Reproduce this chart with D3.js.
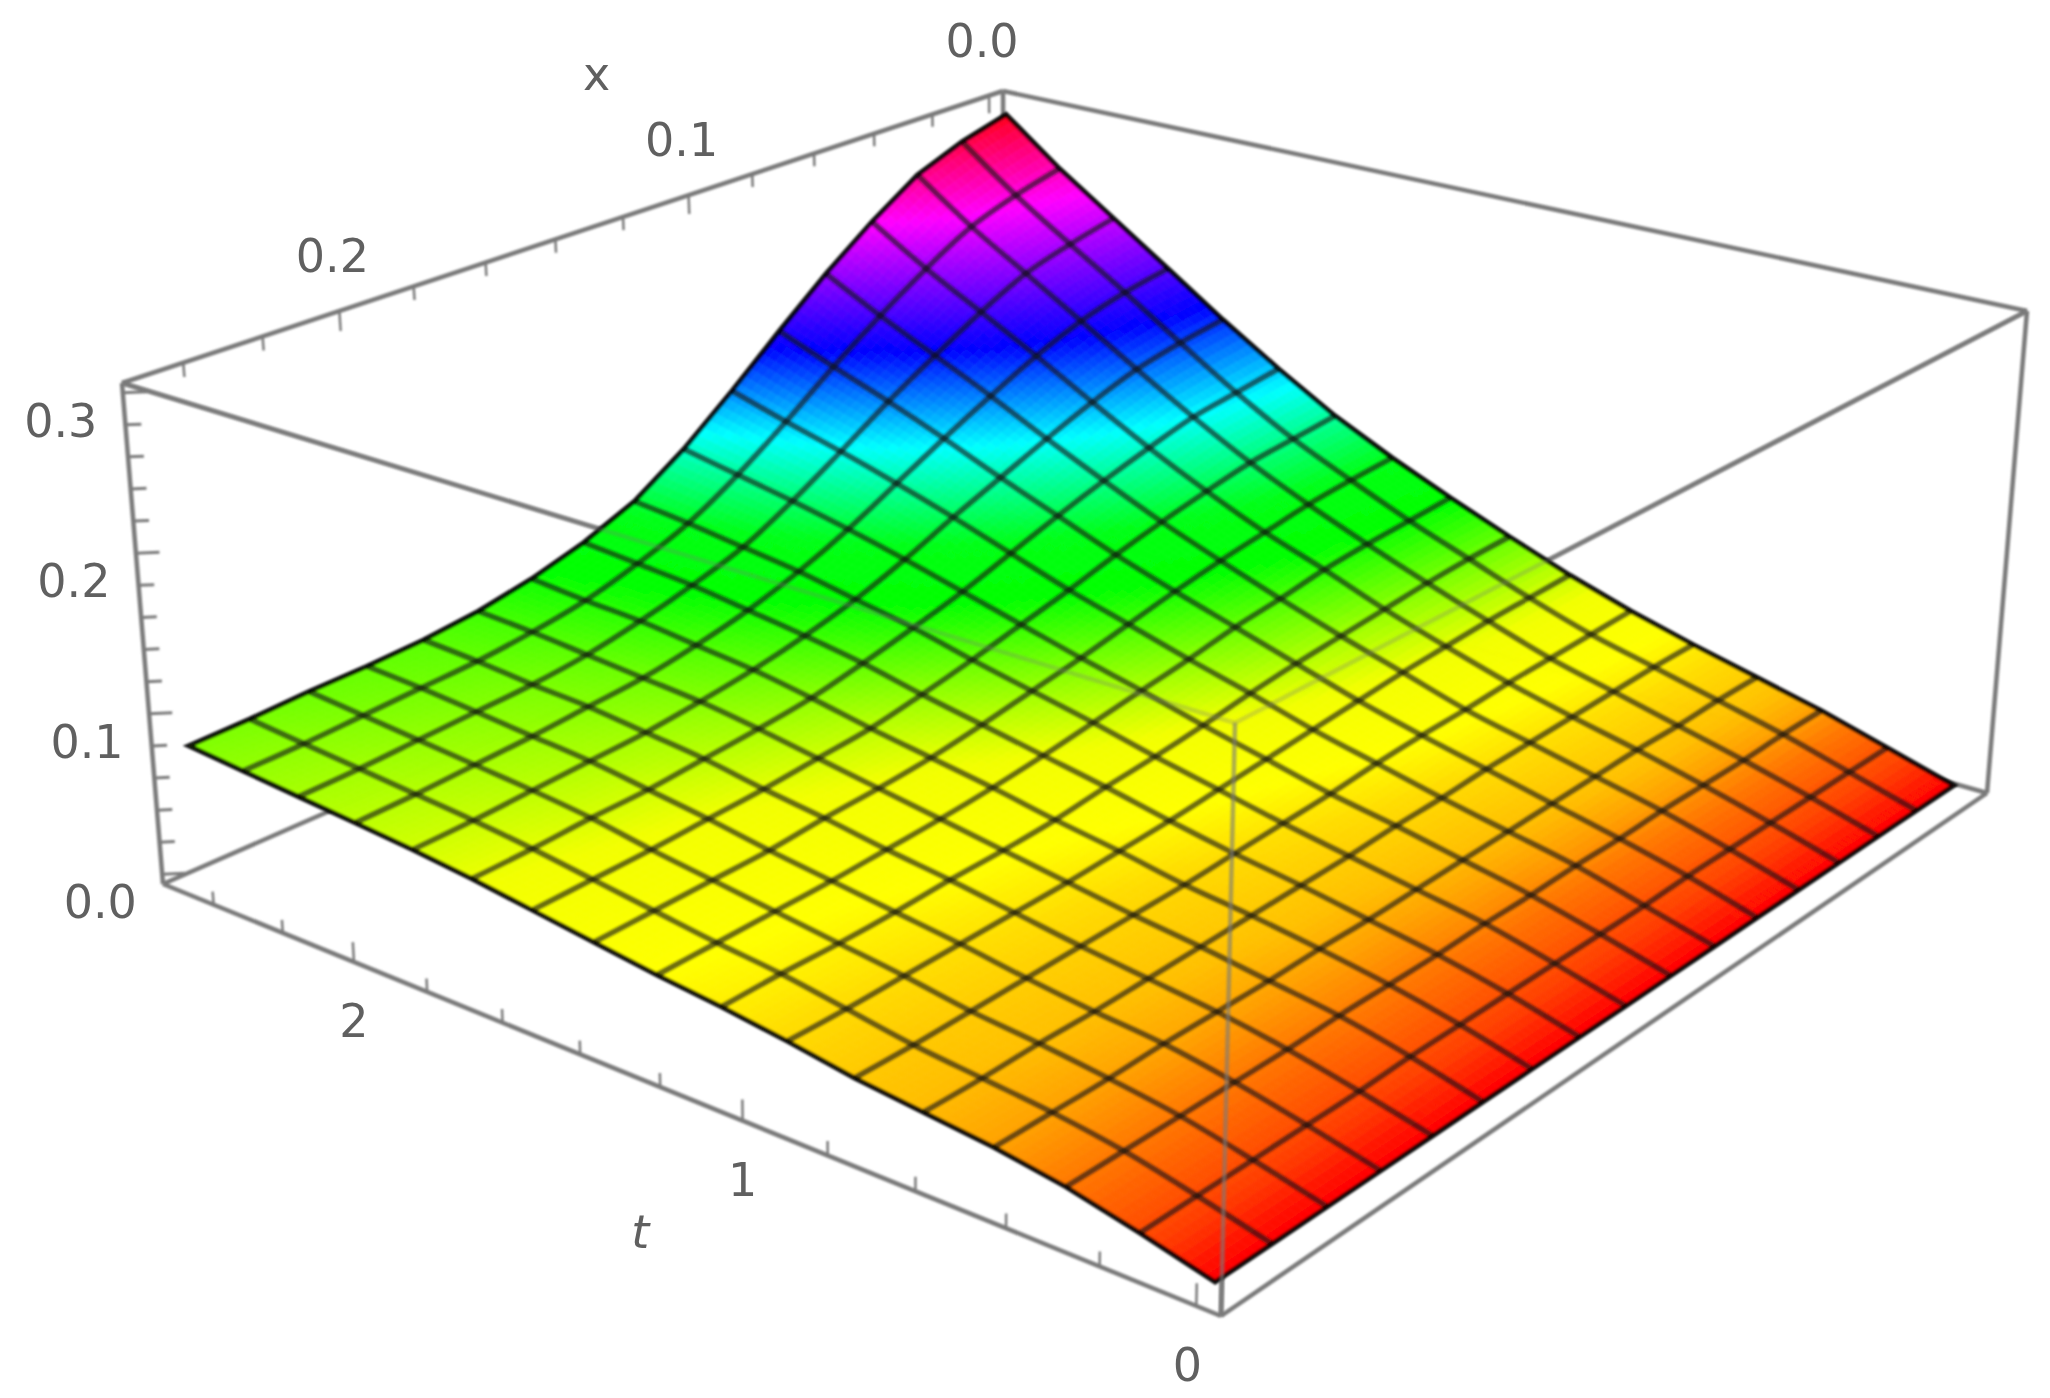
<!DOCTYPE html>
<html>
<head>
<meta charset="utf-8">
<title>u(x,t)</title>
<script src="https://cdn.jsdelivr.net/npm/d3@7"></script>
<style>
    html, body { margin: 0; padding: 0; background: #fff; }
    svg { display: block; }
    text { font-family: "DejaVu Sans", sans-serif; fill: #606060; }
</style>
</head>
<body>
<div id="chart"></div>
<script>
// grid of the surface, 16 mesh cells on each side
var tValues = [0, 0.15625, 0.3125, 0.46875, 0.625, 0.78125, 0.9375, 1.09375, 1.25, 1.40625, 1.5625, 1.71875, 1.875, 2.03125, 2.1875, 2.34375, 2.5];
var xValues = [0, 0.015625, 0.03125, 0.046875, 0.0625, 0.078125, 0.09375, 0.109375, 0.125, 0.140625, 0.15625, 0.171875, 0.1875, 0.203125, 0.21875, 0.234375, 0.25];

// surface height, one row per t, one column per x
var uValues = [
    [.000, .000, .000, .000, .000, .000, .000, .000, .000, .000, .000, .000, .000, .000, .000, .000, .000],
    [.012, .012, .012, .012, .012, .012, .011, .011, .011, .011, .011, .011, .010, .010, .010, .010, .010],
    [.024, .024, .023, .023, .023, .022, .022, .021, .021, .020, .020, .020, .019, .019, .019, .019, .019],
    [.034, .034, .033, .033, .032, .031, .030, .029, .028, .027, .027, .026, .026, .026, .025, .025, .025],
    [.044, .044, .043, .042, .041, .040, .038, .037, .035, .034, .033, .032, .031, .030, .030, .029, .029],
    [.055, .054, .053, .052, .050, .049, .047, .044, .042, .040, .038, .037, .036, .035, .034, .033, .033],
    [.068, .067, .066, .064, .062, .059, .056, .053, .050, .047, .045, .043, .042, .041, .040, .039, .039],
    [.083, .082, .080, .077, .074, .071, .067, .062, .058, .055, .051, .049, .048, .046, .045, .045, .044],
    [.099, .097, .095, .092, .087, .083, .077, .072, .067, .062, .058, .055, .053, .051, .050, .049, .048],
    [.116, .114, .111, .106, .101, .095, .088, .081, .075, .069, .064, .061, .059, .056, .055, .054, .053],
    [.135, .132, .129, .123, .116, .108, .099, .091, .083, .076, .070, .067, .064, .062, .060, .059, .058],
    [.158, .154, .150, .142, .133, .123, .112, .101, .092, .084, .077, .073, .070, .067, .066, .064, .063],
    [.183, .179, .173, .163, .151, .138, .125, .111, .099, .090, .083, .078, .074, .072, .070, .068, .067],
    [.210, .205, .197, .185, .170, .154, .137, .120, .106, .095, .087, .081, .078, .075, .073, .071, .070],
    [.237, .230, .221, .206, .188, .169, .148, .128, .111, .100, .091, .084, .080, .078, .076, .074, .073],
    [.264, .256, .245, .227, .206, .183, .158, .135, .116, .103, .093, .087, .083, .081, .079, .077, .076],
    [.295, .286, .273, .251, .226, .198, .169, .142, .120, .106, .096, .089, .085, .083, .082, .080, .079]
];

// hue of the surface against its height
var hueHeights = [0, .008, .019, .025, .03, .04, .048, .062, .079, .098, .115, .15, .19, .25, .3];
var hueDegrees = [0, 15, 28, 38, 45, 52, 60, 63, 90, 120, 125, 180, 240, 300, 360];

// ticks
var tMinor = [0, 0.2, 0.4, 0.6, 0.8, 1, 1.2, 1.4, 1.6, 1.8, 2, 2.2, 2.4];
var tMajor = [0, 1, 2];
var xMinor = [0, 0.02, 0.04, 0.06, 0.08, 0.1, 0.12, 0.14, 0.16, 0.18, 0.2, 0.22, 0.24];
var xMajor = [0, 0.1, 0.2];
var zMinor = [0, 0.02, 0.04, 0.06, 0.08, 0.1, 0.12, 0.14, 0.16, 0.18, 0.2, 0.22, 0.24, 0.26, 0.28, 0.3];
var zMajor = [0, 0.1, 0.2, 0.3];

var width = 2050, height = 1398;

// box corners on screen, floor and ceiling. order: t low/x high, t high/x high, t high/x low, t low/x low
var floorQuad = [[1221, 1316], [163, 884], [1005, 515], [1987, 793]];
var ceilQuad = [[1235, 723], [122, 383], [1003, 91], [2027, 311]];

// plot range has 2% padding round the data
var tScale = d3.scaleLinear().domain([-0.05, 2.55]).range([0, 1]);
var xScale = d3.scaleLinear().domain([0.255, -0.005]).range([0, 1]);
var zScale = d3.scaleLinear().domain([-0.006, 0.306]).range([0, 1]);
var hueScale = d3.scaleLinear().domain(hueHeights).range(hueDegrees);

function surfaceColor(z) {
    return d3.hsl(hueScale(z), 1, 0.5).formatHex();
}

function makeHomography(q) {
    var dx1 = q[1][0] - q[2][0], dx2 = q[3][0] - q[2][0], sx = q[0][0] - q[1][0] + q[2][0] - q[3][0];
    var dy1 = q[1][1] - q[2][1], dy2 = q[3][1] - q[2][1], sy = q[0][1] - q[1][1] + q[2][1] - q[3][1];
    var den = dx1 * dy2 - dx2 * dy1;
    var g = (sx * dy2 - dx2 * sy) / den;
    var h = (dx1 * sy - sx * dy1) / den;
    var a = q[1][0] - q[0][0] + g * q[1][0], b = q[3][0] - q[0][0] + h * q[3][0], c = q[0][0];
    var d = q[1][1] - q[0][1] + g * q[1][1], e = q[3][1] - q[0][1] + h * q[3][1], f = q[0][1];
    return function(u, v) {
        var w = g * u + h * v + 1;
        return [(a * u + b * v + c) / w, (d * u + e * v + f) / w];
    };
}

var floorMap = makeHomography(floorQuad);
var ceilMap = makeHomography(ceilQuad);

function project(t, x, z) {
    var u = tScale(t), v = xScale(x), k = zScale(z);
    var p0 = floorMap(u, v), p1 = ceilMap(u, v);
    return [p0[0] + (p1[0] - p0[0]) * k, p0[1] + (p1[1] - p0[1]) * k];
}

var tLo = -0.05, tHi = 2.55, xLo = -0.005, xHi = 0.255, zLo = -0.006, zHi = 0.306;
var line = d3.line();
var smooth = d3.line().curve(d3.curveCatmullRom);

var svg = d3.select('#chart').append('svg')
    .attr('width', width)
    .attr('height', height)
    .attr('viewBox', '0 0 ' + width + ' ' + height);

var defs = svg.append('defs');
defs.append('filter').attr('id', 'soft')
    .attr('filterUnits', 'userSpaceOnUse')
    .attr('x', 0).attr('y', 0).attr('width', width).attr('height', height)
    .append('feGaussianBlur').attr('stdDeviation', 1.3);
defs.append('filter').attr('id', 'softText')
    .attr('filterUnits', 'userSpaceOnUse')
    .attr('x', 0).attr('y', 0).attr('width', width).attr('height', height)
    .append('feGaussianBlur').attr('stdDeviation', 0.7);

function boxLine(g, a, b, opacity, w) {
    g.append('path')
        .attr('d', line([project(a[0], a[1], a[2]), project(b[0], b[1], b[2])]))
        .attr('fill', 'none')
        .attr('stroke', '#7a7a7a')
        .attr('stroke-width', w || 4.5)
        .attr('stroke-opacity', opacity);
}

var E = [tHi, xHi, zLo], F = [tLo, xHi, zLo], G = [tLo, xLo, zLo], H = [tHi, xLo, zLo];
var A = [tHi, xHi, zHi], D = [tLo, xHi, zHi], C = [tLo, xLo, zHi], B = [tHi, xLo, zHi];

// box edges and ticks behind the surface
var back = svg.append('g').attr('filter', 'url(#soft)');
[[A, B], [B, C], [A, D], [C, D], [A, E], [C, G], [B, H], [E, H], [G, H], [E, F], [F, G], [D, F]].forEach(function(e) {
    boxLine(back, e[0], e[1], 1);
});

// ticks
tMinor.forEach(function(t) {
    var len = tMajor.indexOf(t) >= 0 ? 0.012 : 0.008;
    boxLine(back, [t, xHi, zLo], [t, xHi, zLo + len], 1, 2.5);
});
xMinor.forEach(function(x) {
    var len = xMajor.indexOf(x) >= 0 ? 0.013 : 0.009;
    boxLine(back, [tHi, x, zHi], [tHi, x, zHi - len], 1, 2.5);
});
zMinor.forEach(function(z) {
    var d = zMajor.indexOf(z) >= 0 ? 0.012 : 0.008;
    boxLine(back, [tHi, xHi, z], [tHi - d * 2.6, xHi - d * 0.26, z], 1, 3);
});

// surface patches, split so the hue runs smoothly over each mesh cell
var subdivisions = 8;
var patches = [];
d3.range(tValues.length - 2, -1, -1).forEach(function(i) {
    d3.range(0, xValues.length - 1).forEach(function(j) {
        d3.range(0, subdivisions).forEach(function(a) {
            d3.range(0, subdivisions).forEach(function(b) {
                patches.push({ i: i, j: j, a: (subdivisions - 1 - a) / subdivisions, b: b / subdivisions });
            });
        });
    });
});

function surfacePoint(i, j, fa, fb) {
    var t = tValues[i] + (tValues[i + 1] - tValues[i]) * fa;
    var x = xValues[j] + (xValues[j + 1] - xValues[j]) * fb;
    var z = uValues[i][j] * (1 - fa) * (1 - fb) + uValues[i + 1][j] * fa * (1 - fb) +
        uValues[i][j + 1] * (1 - fa) * fb + uValues[i + 1][j + 1] * fa * fb;
    return { z: z, p: project(t, x, z) };
}

var surface = svg.append('g').attr('filter', 'url(#soft)');
var step = 1 / subdivisions;

surface.selectAll('path.patch')
    .data(patches)
    .join('path')
    .attr('class', 'patch')
    .each(function(d) {
        var p00 = surfacePoint(d.i, d.j, d.a, d.b);
        var p10 = surfacePoint(d.i, d.j, d.a + step, d.b);
        var p11 = surfacePoint(d.i, d.j, d.a + step, d.b + step);
        var p01 = surfacePoint(d.i, d.j, d.a, d.b + step);
        var c = surfaceColor((p00.z + p10.z + p11.z + p01.z) / 4);
        d3.select(this)
            .attr('d', line([p00.p, p10.p, p11.p, p01.p]) + 'Z')
            .attr('fill', c)
            .attr('stroke', c)
            .attr('stroke-width', 0.8);
    });

// mesh lines, drawn from the inner grid
var tLines = d3.range(1, tValues.length - 1);
var xLines = d3.range(1, xValues.length - 1);

surface.selectAll('path.meshT')
    .data(tLines)
    .join('path')
    .attr('class', 'meshT')
    .attr('d', function(i) {
        return smooth(xValues.map(function(x, j) { return project(tValues[i], x, uValues[i][j]); }));
    });
surface.selectAll('path.meshX')
    .data(xLines)
    .join('path')
    .attr('class', 'meshX')
    .attr('d', function(j) {
        return smooth(tValues.map(function(t, i) { return project(t, xValues[j], uValues[i][j]); }));
    });
surface.selectAll('path.meshT, path.meshX')
    .attr('fill', 'none')
    .attr('stroke', '#111')
    .attr('stroke-opacity', 0.6)
    .attr('stroke-width', 6);

// outline of the surface
var last = tValues.length - 1;
var outline = xValues.map(function(x, j) { return project(0, x, uValues[0][j]); })
    .concat(tValues.map(function(t, i) { return project(t, xValues[last], uValues[i][last]); }))
    .concat(xValues.map(function(x, j) { return project(tValues[last], xValues[last - j], uValues[last][last - j]); }))
    .concat(tValues.map(function(t, i) { return project(tValues[last - i], 0, uValues[last - i][0]); }));
surface.append('path')
    .attr('d', line(outline) + 'Z')
    .attr('fill', 'none')
    .attr('stroke', '#000')
    .attr('stroke-opacity', 0.9)
    .attr('stroke-width', 5);

// front edges of the box show through the surface
var front = svg.append('g').attr('filter', 'url(#soft)');
boxLine(front, A, D, 0.28);
boxLine(front, C, D, 0.28);
boxLine(front, D, F, 0.6);

// tick labels
var labels = svg.append('g').attr('filter', 'url(#softText)')
    .attr('font-size', 46)
    .attr('text-anchor', 'middle')
    .attr('dominant-baseline', 'central');

function fixed1(v) { return v.toFixed(1); }

labels.selectAll('text.t').data(tMajor).join('text').attr('class', 't')
    .attr('x', function(d) { return project(d, xHi, zLo)[0] - (d === 0 ? 9 : 0); })
    .attr('y', function(d) { return project(d, xHi, zLo)[1] + 59; })
    .text(function(d) { return d; });
labels.selectAll('text.x').data(xMajor).join('text').attr('class', 'x')
    .attr('x', function(d) { return project(tHi, d, zHi)[0] - 7; })
    .attr('y', function(d) { return project(tHi, d, zHi)[1] - 55; })
    .text(fixed1);
labels.selectAll('text.z').data(zMajor).join('text').attr('class', 'z')
    .attr('x', function(d) { return project(tHi, xHi, d)[0] - 62; })
    .attr('y', function(d) { return project(tHi, xHi, d)[1] + 28; })
    .text(fixed1);

// axis names
labels.append('text')
    .attr('x', project(tHi, 0.18, zHi)[0] + 183)
    .attr('y', project(tHi, 0.18, zHi)[1] - 212)
    .text('x');
labels.append('text')
    .attr('x', project(1.2, xHi, zLo)[0] - 20)
    .attr('y', project(1.2, xHi, zLo)[1] + 145)
    .attr('font-style', 'italic')
    .text('t');
</script>
</body>
</html>
